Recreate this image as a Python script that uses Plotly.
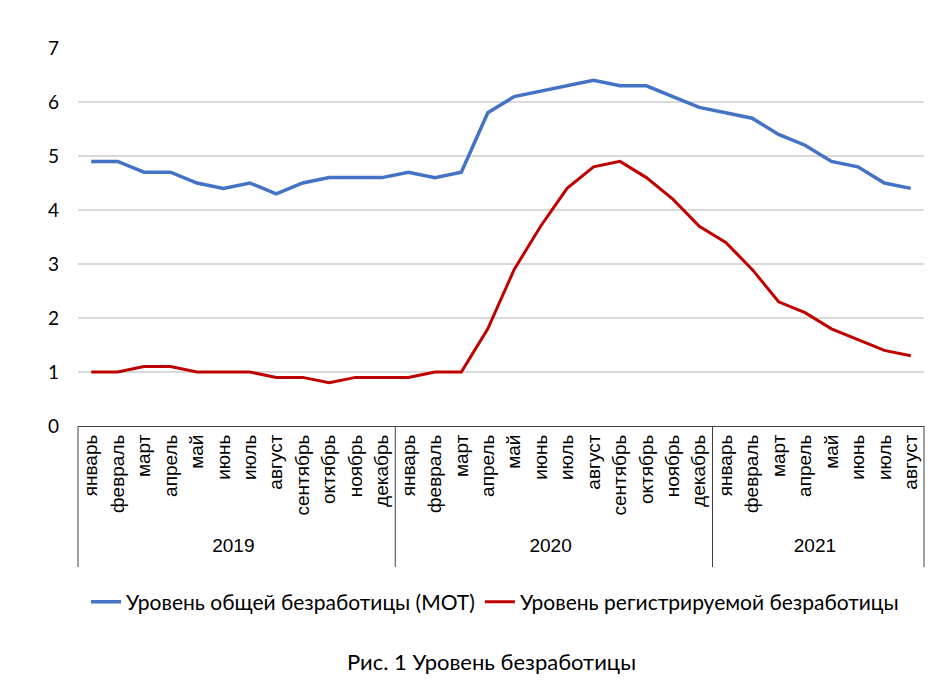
import plotly.graph_objects as go

years = ["2019"] * 12 + ["2020"] * 12 + ["2021"] * 8
months_full = ["январь", "февраль", "март", "апрель", "май", "июнь", "июль",
               "август", "сентябрь", "октябрь", "ноябрь", "декабрь"]
months = months_full + months_full + months_full[:8]

total_ilo = [4.9, 4.9, 4.7, 4.7, 4.5, 4.4, 4.5, 4.3, 4.5, 4.6, 4.6, 4.6,
             4.7, 4.6, 4.7, 5.8, 6.1, 6.2, 6.3, 6.4, 6.3, 6.3, 6.1, 5.9,
             5.8, 5.7, 5.4, 5.2, 4.9, 4.8, 4.5, 4.4]
registered = [1.0, 1.0, 1.1, 1.1, 1.0, 1.0, 1.0, 0.9, 0.9, 0.8, 0.9, 0.9,
              0.9, 1.0, 1.0, 1.8, 2.9, 3.7, 4.4, 4.8, 4.9, 4.6, 4.2, 3.7,
              3.4, 2.9, 2.3, 2.1, 1.8, 1.6, 1.4, 1.3]

name_total = "Уровень общей безработицы (МОТ)"
name_reg = "Уровень регистрируемой безработицы"
caption = "Рис. 1 Уровень безработицы"

fig = go.Figure()
fig.add_trace(go.Scatter(x=[years, months], y=total_ilo, mode="lines", name=name_total,
                         line=dict(color="#4472C4", width=3.5)))
fig.add_trace(go.Scatter(x=[years, months], y=registered, mode="lines", name=name_reg,
                         line=dict(color="#C00000", width=3)))

# box lines of the category axis: both ends and every year boundary
n = len(years)
bounds = [0] + [i for i in range(1, n) if years[i] != years[i - 1]] + [n]
shapes = [dict(type="line", xref="paper", yref="paper", x0=b / n, x1=b / n,
               y0=0, y1=-0.373, line=dict(color="#404040", width=1)) for b in bounds]

fig.update_layout(
    width=945, height=698,
    margin=dict(l=70, r=29, t=40, b=280),
    plot_bgcolor="white", paper_bgcolor="white",
    font=dict(family="Lato, Liberation Sans", size=18, color="#000000"),
    showlegend=True,
    legend=dict(orientation="h", x=0.493, xanchor="center", y=-0.466, yanchor="middle",
                font=dict(family="Lato", size=21), itemwidth=30),
    xaxis=dict(type="multicategory", tickangle=-90, showline=True, linecolor="#404040",
               linewidth=1, showgrid=False, ticks="", range=[-0.5, n - 0.5],
               tickfont=dict(family="Liberation Sans", size=19),
               dividercolor="#404040", dividerwidth=1, showdividers=False),
    yaxis=dict(range=[0, 7], dtick=1, showgrid=True, gridcolor="#D9D9D9", gridwidth=1.5,
               zeroline=False, showline=False, ticks="", ticklabelstandoff=18,
               tickfont=dict(family="Lato", size=19)),
    shapes=shapes,
    annotations=[dict(text=caption, xref="paper", yref="paper", x=0.489, y=-0.624,
                      showarrow=False, xanchor="center", yanchor="middle",
                      font=dict(family="Lato", size=22))],
)

fig.write_html("out.html")
